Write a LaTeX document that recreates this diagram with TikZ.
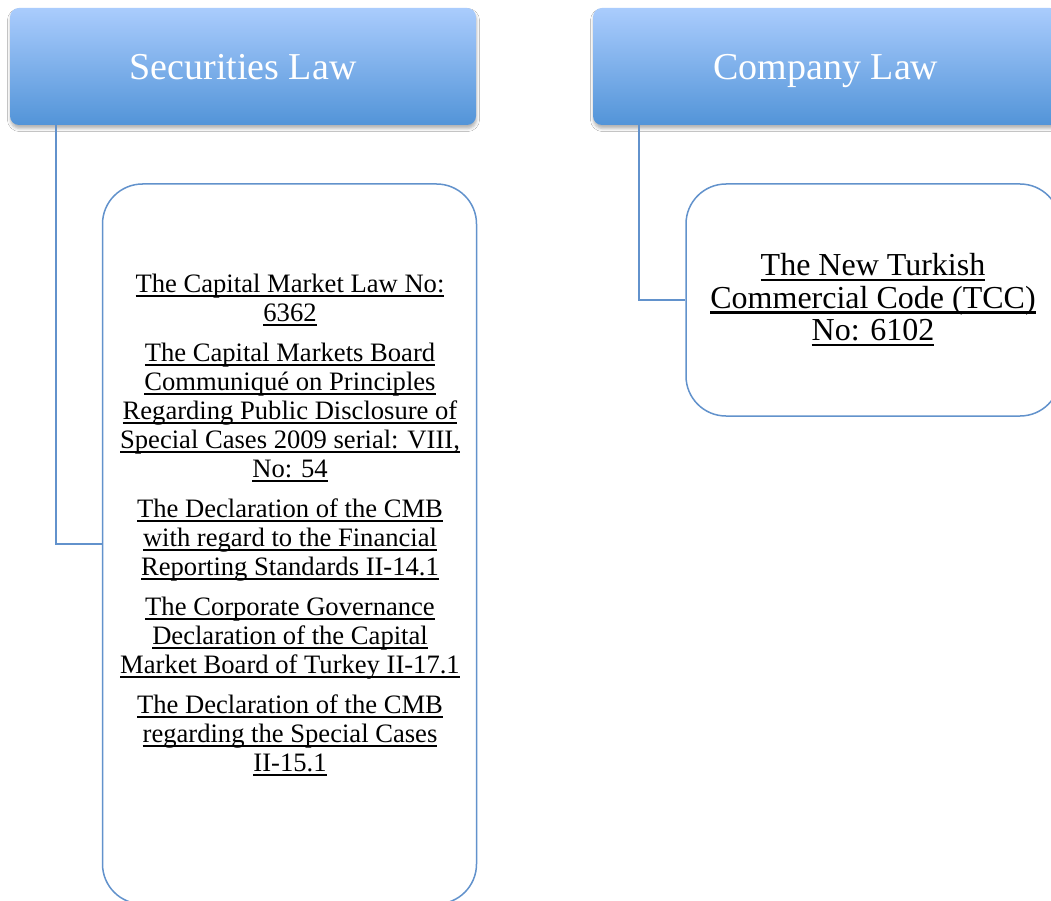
\documentclass[tikz,border=0pt]{standalone}
\usepackage{fontspec}
\setmainfont{Liberation Serif}
\usetikzlibrary{shadows.blur,calc}
\definecolor{hdTop}{RGB}{170,204,253}
\definecolor{hdBot}{RGB}{82,148,216}
\definecolor{lineBlue}{RGB}{98,146,204}
\newcommand\ulx[1]{\setbox0=\hbox{#1}\rlap{\rule[-0.17em]{\wd0}{0.075em}}\box0}
\begin{document}
\begin{tikzpicture}[x=1pt,y=-1pt,
  header/.style={draw=none, rounded corners=9pt, top color=hdTop, bottom color=hdBot,
    minimum width=466pt, minimum height=117pt, text=white, inner sep=0pt,
    font=\fontsize{38}{40}\selectfont, text height=26pt, text depth=0pt,
    blur shadow={shadow xshift=0.5pt, shadow yshift=-3.5pt, shadow blur radius=3pt, shadow opacity=30}},
  leafbox/.style={draw=lineBlue, line width=1.5pt, rounded corners=40pt, fill=white,
    minimum width=374pt, align=center, inner sep=0pt},
  conn/.style={draw=lineBlue, line width=1.5pt}]
\useasboundingbox (0,0) rectangle (1051,901);
\clip (0,0) rectangle (1051,901);
\fill[white] (0,0) rectangle (1051,901);
\node[header] (secHead) at (243,66.5) {Securities Law};
\node[header] (comHead) at (826,66.5) {Company Law};
\node[leafbox, minimum height=720pt] (secBox) at (289.5,544) {};
\node[leafbox, minimum height=232pt, font=\fontsize{32}{32.5}\selectfont] (comBox) at (873,300)
  {\ulx{The New Turkish}\\ \ulx{Commercial Code (TCC)}\\ \ulx{No: 6102}};
\node[anchor=north, align=center, inner sep=0pt, font=\fontsize{26.6}{29}\selectfont] (secText) at (290,274)
  {\ulx{The Capital Market Law No:}\\ \ulx{6362}\\[11pt]
   \ulx{The Capital Markets Board}\\ \ulx{Communiqué on Principles}\\ \ulx{Regarding Public Disclosure of}\\ \ulx{Special Cases 2009 serial: VIII,}\\ \ulx{No: 54}\\[11pt]
   \ulx{The Declaration of the CMB}\\ \ulx{with regard to the Financial}\\ \ulx{Reporting Standards II-14.1}\\[11pt]
   \ulx{The Corporate Governance}\\ \ulx{Declaration of the Capital}\\ \ulx{Market Board of Turkey II-17.1}\\[11pt]
   \ulx{The Declaration of the CMB}\\ \ulx{regarding the Special Cases}\\ \ulx{II-15.1}};
\draw[conn] ($(secHead.south west)+(46,0)$) |- (secBox.west);
\draw[conn] ($(comHead.south west)+(46,0)$) |- (comBox.west);
\end{tikzpicture}
\end{document}
